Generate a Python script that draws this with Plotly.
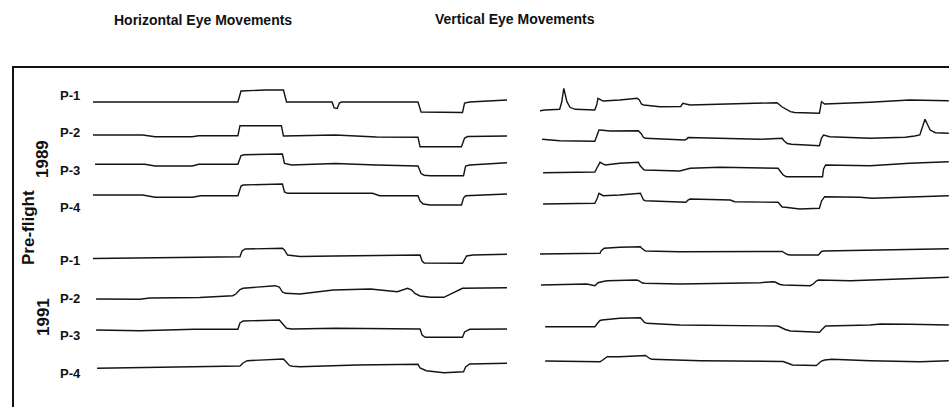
import plotly.graph_objects as go

# Eye-position recordings (time in s, position in deg relative to each trace's resting level)

# ---- Horizontal eye movements, pre-flight 1989 ----
h89_p1_t = [0.0, 2.75, 6.6, 7.0, 7.15, 8.3, 9.2, 9.35, 11.55, 11.65, 11.8, 11.9, 12.0, 15.7, 15.85, 17.85, 17.95, 18.2, 20.0]
h89_p1_deg = [0, -0.3, 0, 0, 11, 12, 12, 0, 0, -6, -6.5, -1, 0, 0, -10, -10.5, -1, 0, 2]

h89_p2_t = [0.0, 2.4, 3.0, 4.8, 5.1, 7.0, 7.1, 9.1, 9.2, 11.7, 13.7, 15.7, 15.8, 17.8, 17.95, 18.1, 20.0]
h89_p2_deg = [1, 1, -0.7, -0.7, 0.3, 0.3, 10.3, 10.3, 0, 1, -1, -1.3, -10.7, -10.7, -2, -0.5, 0]

h89_p3_t = [0.1, 2.5, 3.0, 4.8, 5.1, 7.0, 7.15, 7.3, 9.15, 9.25, 9.6, 11.7, 13.7, 15.7, 15.85, 16.0, 16.3, 17.9, 18.0, 18.2, 20.0]
h89_p3_deg = [0.7, 0.7, -1, -1, 0.7, 0.7, 9.5, 10.3, 11, 1.5, 0, 1.5, 0, -1, -8.5, -10.2, -10.7, -10.7, -1, 0, 2.3]

h89_p4_t = [0.0, 2.4, 3.0, 4.8, 5.2, 7.0, 7.15, 7.25, 9.15, 9.25, 9.4, 11.55, 13.5, 13.85, 15.7, 15.8, 15.95, 16.3, 17.8, 17.9, 18.0, 20.0]
h89_p4_deg = [0, 0, -2.3, -2.3, -0.7, -0.7, 9, 10, 11, 3, 1.7, 1.7, 1.7, -0.7, -0.7, -6, -9, -10, -10, -3, -0.7, 1]

# ---- Horizontal eye movements, pre-flight 1991 ----
h91_p1_t = [0.0, 5.15, 7.1, 7.2, 7.35, 9.15, 9.25, 9.4, 10.0, 11.7, 15.8, 15.9, 16.0, 17.85, 17.95, 18.05, 18.35, 20.0]
h91_p1_deg = [-2.5, -1.3, -0.7, 5, 7, 7.7, 6, 1, -0.5, 0, 1, -5, -7, -7.3, -3, 0, 1, 1.7]

h91_p2_t = [0.15, 2.25, 2.75, 5.15, 6.75, 6.9, 7.1, 7.25, 8.8, 9.0, 9.15, 9.3, 10.0, 11.6, 13.4, 14.35, 14.7, 15.2, 15.4, 15.55, 15.8, 16.3, 16.95, 17.85, 20.0]
h91_p2_deg = [0, -0.3, 1, 1.5, 3.3, 5, 9.5, 10.7, 13.3, 12, 7, 5.7, 5, 9, 10, 8.5, 7.3, 10.7, 9, 5.5, 3, 1.7, 1.7, 10.7, 11.3]

h91_p3_t = [0.15, 2.25, 4.9, 7.0, 7.1, 7.25, 9.0, 9.15, 9.35, 9.6, 11.75, 15.8, 15.9, 16.05, 17.85, 17.95, 18.2, 20.0]
h91_p3_deg = [0, -0.7, 0.7, 0.7, 7, 9, 10, 6, 1.7, 1, 1.7, 1, -5, -7.3, -7.3, -2, 0.7, 1]

h91_p4_t = [0.2, 2.75, 5.15, 7.1, 7.25, 7.45, 9.2, 9.35, 9.5, 9.65, 10.0, 12.75, 15.7, 15.8, 16.1, 16.95, 17.9, 18.0, 18.2, 20.0]
h91_p4_deg = [-1.3, -0.7, 0.3, 1, 4, 6.3, 8, 5, 1.3, 0.8, 0.3, 2, 2.7, -1, -3.7, -5.7, -4.7, 0, 3, 3.7]

# ---- Vertical eye movements, pre-flight 1989 ----
v89_p1_t = [0.0, 0.25, 0.95, 1.05, 1.15, 1.25, 1.3, 1.45, 1.7, 2.65, 2.75, 2.8, 3.05, 3.85, 4.7, 4.8, 4.9, 5.0, 5.8, 6.8, 6.9, 7.25, 11.3, 11.45, 11.7, 12.1, 12.3, 13.5, 13.6, 13.75, 15.95, 17.85, 19.75]
v89_p1_deg = [-0.7, 0, 0.7, 8, 21.7, 13, 8.3, 2.7, 0.7, 0, 6, 11.7, 9, 10, 11.7, 10, 6, 5, 3.3, 3.5, 6.7, 5, 6.7, 7.3, 3, -1.7, -2.5, -3.3, 8.3, 6, 7.7, 10, 9.3]

v89_p2_t = [0.1, 0.95, 2.65, 2.75, 2.85, 2.9, 3.4, 4.75, 4.9, 5.0, 5.1, 7.0, 7.1, 7.15, 9.2, 10.6, 11.7, 11.8, 11.95, 12.15, 13.5, 13.6, 13.7, 14.0, 15.95, 17.65, 18.1, 18.35, 18.6, 18.85, 19.1, 19.75]
v89_p2_deg = [0.7, -0.7, -1.3, 4, 10, 10, 9, 9.3, 6, 2.5, 1.7, 0, 1, 2.5, 1.7, 0.7, 1.7, -1, -3.5, -4.3, -5.7, 2, 5, 3.3, 1.7, 2.7, 4, 5, 20.7, 10, 7.3, 6.7]

v89_p3_t = [0.15, 2.65, 2.75, 2.9, 3.15, 3.85, 4.75, 4.85, 5.0, 5.05, 6.75, 7.25, 8.7, 11.5, 11.6, 11.75, 11.9, 13.65, 13.7, 13.8, 15.95, 17.85, 19.75]
v89_p3_deg = [-0.7, 0, 4, 9.7, 7, 8.7, 9.7, 6, 2.5, 2, 1, 3.7, 4.7, 3.7, 1, -3, -4.7, -4.7, 3, 7, 6.3, 8.7, 10.3]

v89_p4_t = [0.15, 2.65, 2.75, 2.85, 3.05, 3.85, 4.85, 4.95, 5.0, 5.1, 7.05, 7.15, 7.25, 9.2, 9.4, 11.5, 11.6, 11.7, 11.85, 12.55, 13.5, 13.6, 13.75, 15.45, 16.05, 17.85, 19.75]
v89_p4_deg = [0, 0.7, 5, 10.7, 8.3, 9, 10.7, 7, 4, 3.3, 1.7, 4, 5, 4, 2.3, 1.7, -1, -3, -3.3, -5, -4.3, 3, 7.3, 6.7, 5.7, 7.3, 8.3]

# ---- Vertical eye movements, pre-flight 1991 ----
v91_p1_t = [0.0, 2.9, 2.95, 3.1, 3.85, 4.85, 4.9, 5.05, 5.1, 6.75, 11.6, 11.7, 11.95, 12.1, 13.45, 13.5, 13.6, 13.7, 15.95, 17.85, 19.75]
v91_p1_deg = [-1, -0.3, 2, 4.7, 5.7, 6.3, 5, 2.3, 2, 1.3, 2, 1.5, -1.5, -2, -2, -1, 1.5, 2, 3, 3.7, 4.3]

v91_p2_t = [0.05, 2.25, 2.65, 2.8, 3.05, 3.25, 4.65, 4.75, 4.95, 5.05, 6.75, 10.65, 11.25, 11.35, 11.6, 11.75, 13.05, 13.2, 13.35, 13.45, 15.0, 17.4, 19.75]
v91_p2_deg = [0, 1, -0.7, 2.3, 3.5, 4.3, 5, 4.5, 2, 1.7, 1, 2.3, 3.3, 3, 0.5, 0, -0.7, 1, 4, 5, 4.3, 5.7, 7.7]

v91_p3_t = [0.25, 2.65, 2.75, 2.9, 3.0, 3.85, 4.85, 4.9, 5.05, 5.15, 6.75, 11.5, 11.85, 12.1, 13.5, 13.6, 13.75, 13.8, 15.95, 16.45, 17.85, 19.75]
v91_p3_deg = [0.3, 0.3, 3, 6.5, 7, 8.7, 9.3, 8, 4.5, 3.7, 2, 1, -2.5, -4, -5.3, -3, 0.5, 1, 2, 3, 2.7, 2]

v91_p4_t = [0.25, 2.9, 3.0, 3.2, 3.25, 3.85, 5.05, 5.1, 5.3, 5.4, 7.75, 11.6, 11.75, 12.2, 13.3, 13.35, 13.6, 13.75, 14.1, 15.95, 18.35, 19.75]
v91_p4_deg = [0, -0.7, 0.5, 3.5, 4.3, 4.3, 6, 5.5, 2.5, 1.7, 0.3, 0, -0.5, -4, -5, -4.5, 0, 1, 1.7, 0.3, -0.7, 0.3]

participants = ["P-1", "P-2", "P-3", "P-4"]
panel_titles = ["Horizontal Eye Movements", "Vertical Eye Movements"]
condition_label = "Pre-flight"
session_labels = ["1989", "1991"]

horizontal_traces = [
    (h89_p1_t, h89_p1_deg), (h89_p2_t, h89_p2_deg), (h89_p3_t, h89_p3_deg), (h89_p4_t, h89_p4_deg),
    (h91_p1_t, h91_p1_deg), (h91_p2_t, h91_p2_deg), (h91_p3_t, h91_p3_deg), (h91_p4_t, h91_p4_deg),
]
vertical_traces = [
    (v89_p1_t, v89_p1_deg), (v89_p2_t, v89_p2_deg), (v89_p3_t, v89_p3_deg), (v89_p4_t, v89_p4_deg),
    (v91_p1_t, v91_p1_deg), (v91_p2_t, v91_p2_deg), (v91_p3_t, v91_p3_deg), (v91_p4_t, v91_p4_deg),
]

# ---- layout geometry (pixels) ----
W, H = 949, 407
ROW_HALF = 30  # half height of each strip, px (1 px per deg)
left_rows_px = [102, 136, 165, 195, 256, 299, 330, 367]
right_rows_px = [110, 140, 172, 204, 253, 285, 327, 361]
left_x_px = (93, 507)
right_x_px = (540, 949)
label_y_px = [95, 132, 170, 207, 260, 298, 335, 373]


def px_x(x):
    return x / W


def px_y(y):
    return 1 - y / H


LINE = dict(color="#141414", width=1.4)
fig = go.Figure()
layout = dict(
    width=W, height=H, margin=dict(l=0, r=0, t=0, b=0),
    paper_bgcolor="white", plot_bgcolor="rgba(0,0,0,0)", showlegend=False,
    xaxis=dict(domain=[px_x(left_x_px[0]), px_x(left_x_px[1])], range=[0, 20.0], visible=False, fixedrange=True),
    xaxis2=dict(domain=[px_x(right_x_px[0]), px_x(right_x_px[1])], range=[0, 19.76], visible=False, fixedrange=True),
)

axis_idx = 1
for panel, (traces, rows_px, xname) in enumerate(
        [(horizontal_traces, left_rows_px, "x"), (vertical_traces, right_rows_px, "x2")]):
    for (t, deg), base in zip(traces, rows_px):
        yname = "y" if axis_idx == 1 else f"y{axis_idx}"
        key = "yaxis" if axis_idx == 1 else f"yaxis{axis_idx}"
        layout[key] = dict(
            domain=[px_y(base + ROW_HALF), px_y(base - ROW_HALF)],
            range=[-ROW_HALF, ROW_HALF], visible=False, anchor=xname, fixedrange=True)
        fig.add_trace(go.Scatter(x=t, y=deg, mode="lines", line=LINE,
                                 xaxis=xname, yaxis=yname, hoverinfo="skip"))
        axis_idx += 1

fig.update_layout(**layout)

# frame: top rule and left rule
fig.add_shape(type="line", xref="paper", yref="paper", x0=px_x(12), x1=1.0,
              y0=px_y(67), y1=px_y(67), line=dict(color="#111", width=2))
fig.add_shape(type="line", xref="paper", yref="paper", x0=px_x(13), x1=px_x(13),
              y0=px_y(66), y1=0.0, line=dict(color="#111", width=2))

FONT = "Liberation Sans, Arial, sans-serif"
title_pos = [(203, 20), (515, 19)]
for text, (x, y) in zip(panel_titles, title_pos):
    fig.add_annotation(text=f"<b>{text}</b>", x=px_x(x), y=px_y(y), xref="paper", yref="paper",
                       showarrow=False, xanchor="center", yanchor="middle",
                       font=dict(family=FONT, size=14, color="#111"))

for i, ly in enumerate(label_y_px):
    fig.add_annotation(text=f"<b>{participants[i % 4]}</b>", x=px_x(70), y=px_y(ly),
                       xref="paper", yref="paper", showarrow=False,
                       xanchor="center", yanchor="middle",
                       font=dict(family=FONT, size=13, color="#111"))

fig.add_annotation(text=f"<b>{condition_label}</b>", x=px_x(28), y=px_y(228), xref="paper", yref="paper",
                   showarrow=False, textangle=-90, xanchor="center", yanchor="middle",
                   font=dict(family=FONT, size=17, color="#111"))
for text, (x, y) in zip(session_labels, [(42, 159), (43, 317)]):
    fig.add_annotation(text=f"<b>{text}</b>", x=px_x(x), y=px_y(y), xref="paper", yref="paper",
                       showarrow=False, textangle=-90, xanchor="center", yanchor="middle",
                       font=dict(family=FONT, size=17, color="#111"))

fig.write_html("out.html")
